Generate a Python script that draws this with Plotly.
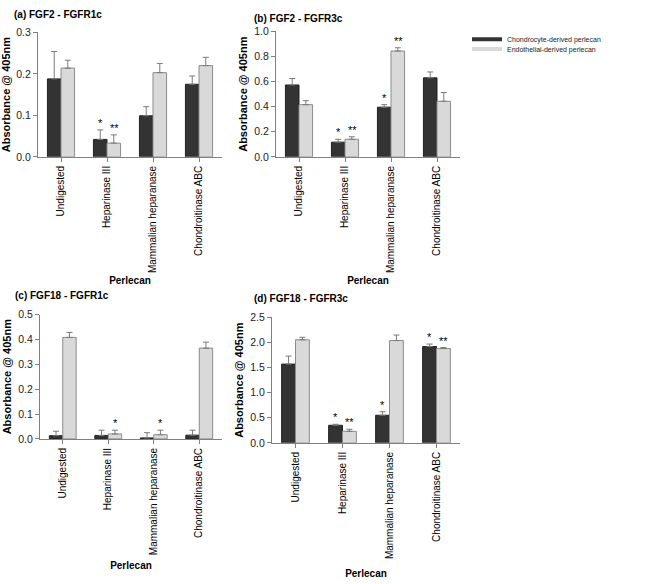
import plotly.graph_objects as go

# ---------------- data ----------------
categories = ["Undigested", "Heparinase III", "Mammalian heparanase", "Chondroitinase ABC"]
series_names = ["Chondrocyte-derived perlecan", "Endothelial-derived perlecan"]

panel_titles = ["(a) FGF2 - FGFR1c", "(b) FGF2 - FGFR3c", "(c) FGF18 - FGFR1c", "(d) FGF18 - FGFR3c"]

a_chondro = [0.188, 0.042, 0.099, 0.175]
a_chondro_err = [0.066, 0.023, 0.022, 0.020]
a_endo = [0.214, 0.033, 0.203, 0.220]
a_endo_err = [0.019, 0.020, 0.022, 0.020]
a_chondro_sig = ["", "*", "", ""]
a_endo_sig = ["", "**", "", ""]

b_chondro = [0.573, 0.117, 0.396, 0.630]
b_chondro_err = [0.052, 0.023, 0.020, 0.047]
b_endo = [0.416, 0.140, 0.844, 0.443]
b_endo_err = [0.032, 0.020, 0.026, 0.070]
b_chondro_sig = ["", "*", "*", ""]
b_endo_sig = ["", "**", "**", ""]

c_chondro = [0.013, 0.014, 0.004, 0.015]
c_chondro_err = [0.018, 0.021, 0.021, 0.020]
c_endo = [0.408, 0.020, 0.017, 0.365]
c_endo_err = [0.020, 0.015, 0.018, 0.024]
c_chondro_sig = ["", "", "", ""]
c_endo_sig = ["", "*", "*", ""]

d_chondro = [1.57, 0.35, 0.55, 1.92]
d_chondro_err = [0.16, 0.02, 0.07, 0.05]
d_endo = [2.055, 0.23, 2.04, 1.88]
d_endo_err = [0.05, 0.04, 0.11, 0.02]
d_chondro_sig = ["", "*", "*", "*"]
d_endo_sig = ["", "**", "", "**"]

y_ranges = [[0, 0.3], [0, 1.0], [0, 0.5], [0, 2.5]]
y_dticks = [0.1, 0.2, 0.1, 0.5]

# ---------------- layout helpers ----------------
W, H = 647, 584
FONT = "Arial, Liberation Sans, sans-serif"
DARK = "#333333"
LIGHT = "#d9d9d9"
AXIS = "#808080"

# pixel boxes (left, right, top, bottom) for each panel's plotting area
boxes = [(38, 222, 27, 154), (276, 460, 26, 154), (40, 222, 315, 442), (272, 460, 318, 446)]
title_pos = [(12, 9), (252, 13), (13, 296), (252, 299)]
x_standoff = [4, 4, 7, 11]

panels = [
    (a_chondro, a_chondro_err, a_endo, a_endo_err, a_chondro_sig, a_endo_sig),
    (b_chondro, b_chondro_err, b_endo, b_endo_err, b_chondro_sig, b_endo_sig),
    (c_chondro, c_chondro_err, c_endo, c_endo_err, c_chondro_sig, c_endo_sig),
    (d_chondro, d_chondro_err, d_endo, d_endo_err, d_chondro_sig, d_endo_sig),
]

fig = go.Figure()
annotations = []
layout = {}

for i, (ch, ch_e, en, en_e, ch_s, en_s) in enumerate(panels):
    n = i + 1
    xa = "x" if n == 1 else f"x{n}"
    ya = "y" if n == 1 else f"y{n}"
    for vals, errs, col, line_col, name in [
        (ch, ch_e, DARK, "#222222", series_names[0]),
        (en, en_e, LIGHT, "#8c8c8c", series_names[1]),
    ]:
        fig.add_trace(go.Bar(
            x=categories, y=vals, name=name, xaxis=xa, yaxis=ya,
            marker=dict(color=col, line=dict(color=line_col, width=1)),
            error_y=dict(type="data", symmetric=False, array=errs,
                         arrayminus=[0] * len(errs), color="#7a7a7a",
                         thickness=1, width=3),
            showlegend=False, offsetgroup=name,
        ))
    # significance markers
    for vals, errs, sigs, shift in [(ch, ch_e, ch_s, -7), (en, en_e, en_s, 7)]:
        for c, v, e, s in zip(categories, vals, errs, sigs):
            if s:
                annotations.append(dict(
                    x=c, y=v + e, xref=xa, yref=ya, text=s, showarrow=False,
                    xshift=shift, yanchor="bottom", yshift=-1,
                    font=dict(size=11, color="black", family=FONT)))

    l, r, t, b = boxes[i]
    xkey = "xaxis" if n == 1 else f"xaxis{n}"
    ykey = "yaxis" if n == 1 else f"yaxis{n}"
    layout[xkey] = dict(
        domain=[l / W, r / W], anchor=ya, type="category",
        categoryorder="array", categoryarray=categories,
        range=[-0.5, 3.5], showline=True, linecolor=AXIS, linewidth=1,
        ticks="outside", ticklen=4, tickcolor=AXIS, tickangle=-90,
        tickfont=dict(size=10, family=FONT, color="black"),
        showgrid=False, zeroline=False,
        title=dict(text="<b>Perlecan</b>", font=dict(size=10, family=FONT, color="black"),
                   standoff=x_standoff[i]),
    )
    yr = y_ranges[i]
    layout[ykey] = dict(
        domain=[1 - b / H, 1 - t / H], anchor=xa, range=yr,
        dtick=y_dticks[i], tick0=0, tickformat=".1f",
        showline=True, linecolor=AXIS, linewidth=1,
        ticks="outside", ticklen=4, tickcolor=AXIS,
        tickfont=dict(size=10.5, family=FONT, color="#222222"),
        showgrid=False, zeroline=False,
        title=dict(text="<b>Absorbance @ 405nm</b>", font=dict(size=11, family=FONT, color="black"),
                   standoff=4),
    )
    tx, ty = title_pos[i]
    annotations.append(dict(
        x=tx / W, y=1 - ty / H, xref="paper", yref="paper", text=f"<b>{panel_titles[i]}</b>",
        showarrow=False, xanchor="left", yanchor="middle",
        font=dict(size=10, family=FONT, color="black")))

# legend-only entries (flat swatches)
fig.add_trace(go.Scatter(x=[None], y=[None], mode="lines", name=series_names[0],
                         line=dict(color=DARK, width=4), legend="legend"))
fig.add_trace(go.Scatter(x=[None], y=[None], mode="lines", name=series_names[1],
                         line=dict(color=LIGHT, width=4), legend="legend2"))

fig.update_layout(
    width=W, height=H, margin=dict(l=0, r=0, t=0, b=0),
    paper_bgcolor="white", plot_bgcolor="white",
    barmode="group", bargap=0.41, bargroupgap=0,
    font=dict(family=FONT, color="black"),
    annotations=annotations,
    legend=dict(x=467 / W, y=1 - 34 / H, xanchor="left", yanchor="middle",
                font=dict(size=7, family=FONT, color="#222222"), bgcolor="rgba(0,0,0,0)",
                itemwidth=30),
    legend2=dict(x=467 / W, y=1 - 44 / H, xanchor="left", yanchor="middle",
                 font=dict(size=7, family=FONT, color="#222222"), bgcolor="rgba(0,0,0,0)",
                 itemwidth=30),
    **layout,
)

fig.write_html("out.html", config={"displayModeBar": False},
               post_script="document.body.style.margin='0';")
